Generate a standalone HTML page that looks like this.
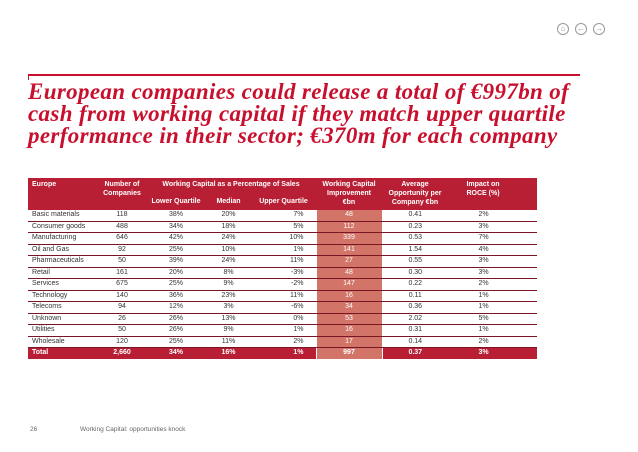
<!DOCTYPE html>
<html><head><meta charset="utf-8"><style>
body{margin:0;width:638px;height:452px;background:#fff;position:relative;overflow:hidden;font-family:"Liberation Sans",sans-serif}
.abs{position:absolute}
.title{left:28px;top:81px;font-family:"Liberation Serif",serif;font-weight:bold;font-style:italic;font-size:23px;line-height:22px;color:#c8102e;white-space:nowrap;letter-spacing:0.35px}
table{position:absolute;left:28px;top:178px;width:509px;border-collapse:collapse;font-size:7px;color:#333}
th{background:#b81f34;color:#fff;font-weight:bold;text-align:center;vertical-align:top;padding:2px 1px 0;line-height:9px}
td{height:10.5px;padding:0 2px;text-align:center;border-bottom:1px solid #7a1525;line-height:10px}
td.n{text-align:left;padding-left:4px}
td.w{background:#d27468;color:#fff;border-left:1px solid #fff;border-right:1px solid #fff}
tr.tot td{background:#b81f34;color:#fff;font-weight:bold;border-bottom:none}
tr.tot td.w{background:#d27468}
.nav{width:10px;height:10px;border:1.5px solid #999;border-radius:50%;top:23px;color:#999;font-size:8px;line-height:10px;text-align:center}
</style></head><body>
<div class="abs nav" style="left:557px">⌂</div>
<div class="abs nav" style="left:575px">←</div>
<div class="abs nav" style="left:593px">→</div>
<div class="abs" style="left:28px;top:74px;width:552px;height:1.5px;background:#c8102e"></div>
<div class="abs" style="left:28px;top:74px;width:1px;height:6px;background:#c8102e"></div>
<div class="abs title">European companies could release a total of €997bn of<br>cash from working capital if they match upper quartile<br>performance in their sector; €370m for each company</div>
<table>
<colgroup><col style="width:70px"><col style="width:48px"><col style="width:60px"><col style="width:45px"><col style="width:65px"><col style="width:66px"><col style="width:66px"><col style="width:89px"></colgroup>
<tr style="height:17px"><th rowspan="2" style="text-align:left;padding-left:4px">Europe</th><th rowspan="2">Number of<br>Companies</th><th colspan="3">Working Capital as a Percentage of Sales</th><th rowspan="2">Working Capital<br>Improvement<br>€bn</th><th rowspan="2">Average<br>Opportunity per<br>Company €bn</th><th rowspan="2" style="padding-right:20px">Impact on<br>ROCE (%)</th></tr>
<tr style="height:15px"><th>Lower Quartile</th><th>Median</th><th>Upper Quartile</th></tr>
<tbody id="tb"></tbody>
</table>
<div class="abs" style="left:30px;top:426px;font-size:6.5px;color:#666">26</div>
<div class="abs" style="left:80px;top:426px;font-size:6.5px;color:#666">Working Capital: opportunities knock</div>
<script>
const rows=[
["Basic materials","118","38%","20%","7%","48","0.41","2%"],
["Consumer goods","488","34%","18%","5%","112","0.23","3%"],
["Manufacturing","646","42%","24%","10%","339","0.53","7%"],
["Oil and Gas","92","25%","10%","1%","141","1.54","4%"],
["Pharmaceuticals","50","39%","24%","11%","27","0.55","3%"],
["Retail","161","20%","8%","-3%","48","0.30","3%"],
["Services","675","25%","9%","-2%","147","0.22","2%"],
["Technology","140","36%","23%","11%","16","0.11","1%"],
["Telecoms","94","12%","3%","-6%","34","0.36","1%"],
["Unknown","26","26%","13%","0%","53","2.02","5%"],
["Utilities","50","26%","9%","1%","16","0.31","1%"],
["Wholesale","120","25%","11%","2%","17","0.14","2%"],
["Total","2,660","34%","16%","1%","997","0.37","3%"]];
const tb=document.getElementById('tb');
rows.forEach((r,i)=>{
 const tr=document.createElement('tr');
 
 
 if(r[0]==='Total')tr.className='tot';
 r.forEach((v,j)=>{
  const td=document.createElement('td');
  
  
  td.textContent=v;
  if(j===0)td.className='n';
  if(j===4){td.style.textAlign='right';td.style.paddingRight='12px';}
  if(j===5)td.className='w';
  if(j===7)td.style.paddingRight='20px';
  tr.appendChild(td);
 });
 tb.appendChild(tr);
});
</script>
</body></html>
